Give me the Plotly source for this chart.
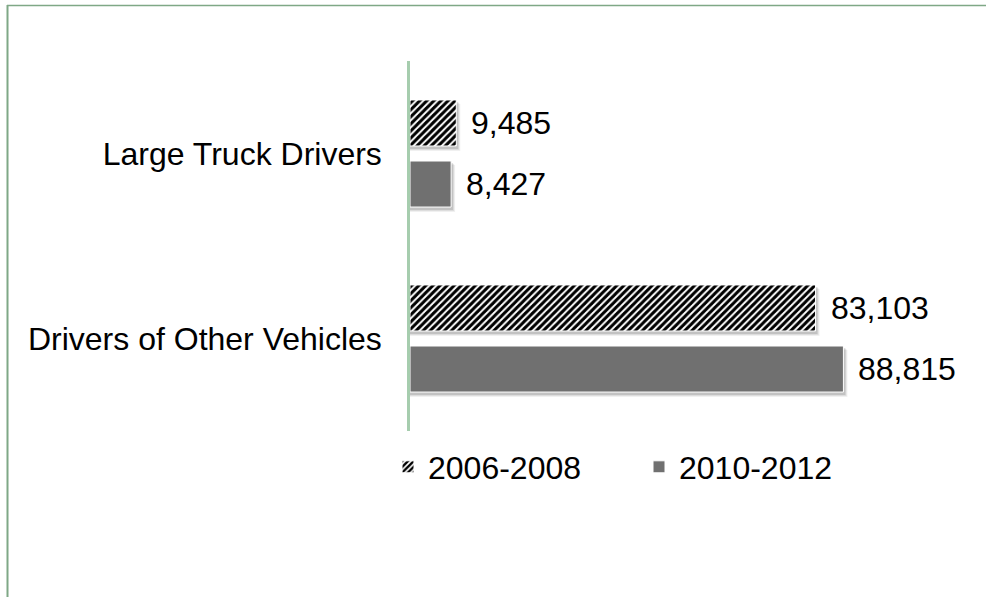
import plotly.graph_objects as go

# Driver counts by group and period
categories = ["Large Truck Drivers", "Drivers of Other Vehicles"]
series_names = ["2006-2008", "2010-2012"]
values_2006_2008 = [9485, 83103]
values_2010_2012 = [8427, 88815]

W, H = 986, 597
ML, MR, MT, MB = 410, 88, 61, 166
PW, PH = W - ML - MR, H - MT - MB
X_MAX = 100000
FONT = "Liberation Sans, Arial, sans-serif"
FS = 32
BAR_GRAY = "#707070"
FRAME = "#7fa886"

BARGAP = 0.34
GROUPGAP = 0.246

fig = go.Figure()
fig.add_trace(go.Bar(
    name=series_names[0], y=categories, x=values_2006_2008, orientation="h",
    marker=dict(color="white", line=dict(color="white", width=1),
                pattern=dict(shape="/", fgcolor="black", bgcolor="white",
                             fgopacity=1, size=5, solidity=0.6)),
))
fig.add_trace(go.Bar(
    name=series_names[1], y=categories, x=values_2010_2012, orientation="h",
    marker=dict(color=BAR_GRAY, line=dict(color="white", width=1)),
))

# soft drop shadows and value labels, placed from the same data
px_x = X_MAX / PW          # data units per pixel on x
px_y = 2.0 / PH            # category units per pixel on y
slot = (1 - BARGAP) / 2
half = slot * (1 - GROUPGAP) / 2
shapes = []
annotations = []
for ti, vals in enumerate([values_2006_2008, values_2010_2012]):
    for ci, v in enumerate(vals):
        c = ci + (ti - 0.5) * slot
        for k, alpha in [(4, 0.06), (3, 0.08), (2, 0.12)]:
            shapes.append(dict(
                type="rect", xref="x", yref="y", layer="below",
                x0=0, x1=v + k * px_x,
                y0=c - half + k * px_y, y1=c + half + (k + 1) * px_y,
                line=dict(width=0), fillcolor=f"rgba(0,0,0,{alpha})",
            ))
        annotations.append(dict(
            x=v, y=c, xref="x", yref="y", text=f"{v:,}", showarrow=False,
            xanchor="left", yanchor="middle", xshift=13,
            font=dict(family=FONT, size=FS, color="black"),
        ))

# chart frame (left and top edges)
def px2paper_x(p):
    return (p - ML) / PW

def px2paper_y(p):
    return (H - MB - p) / PH

shapes.append(dict(type="line", xref="paper", yref="paper",
                   x0=px2paper_x(7.5), x1=px2paper_x(7.5),
                   y0=px2paper_y(5), y1=px2paper_y(H + 5),
                   line=dict(color=FRAME, width=2)))
shapes.append(dict(type="line", xref="paper", yref="paper",
                   x0=px2paper_x(7), x1=px2paper_x(W + 5),
                   y0=px2paper_y(5.5), y1=px2paper_y(5.5),
                   line=dict(color=FRAME, width=1.5)))

fig.update_layout(
    width=W, height=H,
    margin=dict(l=ML, r=MR, t=MT, b=MB, pad=0),
    paper_bgcolor="white", plot_bgcolor="white",
    barmode="group", bargap=BARGAP, bargroupgap=GROUPGAP,
    font=dict(family=FONT, size=FS, color="black"),
    xaxis=dict(range=[0, X_MAX], visible=False, showgrid=False, zeroline=False),
    yaxis=dict(autorange="reversed", showgrid=False, zeroline=False,
               showline=True, linecolor="#a6cdae", linewidth=2.5,
               ticks="", ticklabelstandoff=19,
               tickfont=dict(family=FONT, size=FS, color="black")),
    legend=dict(orientation="h", x=px2paper_x(388), xanchor="left",
                y=px2paper_y(467), yanchor="middle",
                font=dict(family=FONT, size=FS, color="black"),
                entrywidth=206, entrywidthmode="pixels",
                bgcolor="rgba(0,0,0,0)"),
    shapes=shapes, annotations=annotations, showlegend=True,
)

fig.write_html("out.html")
